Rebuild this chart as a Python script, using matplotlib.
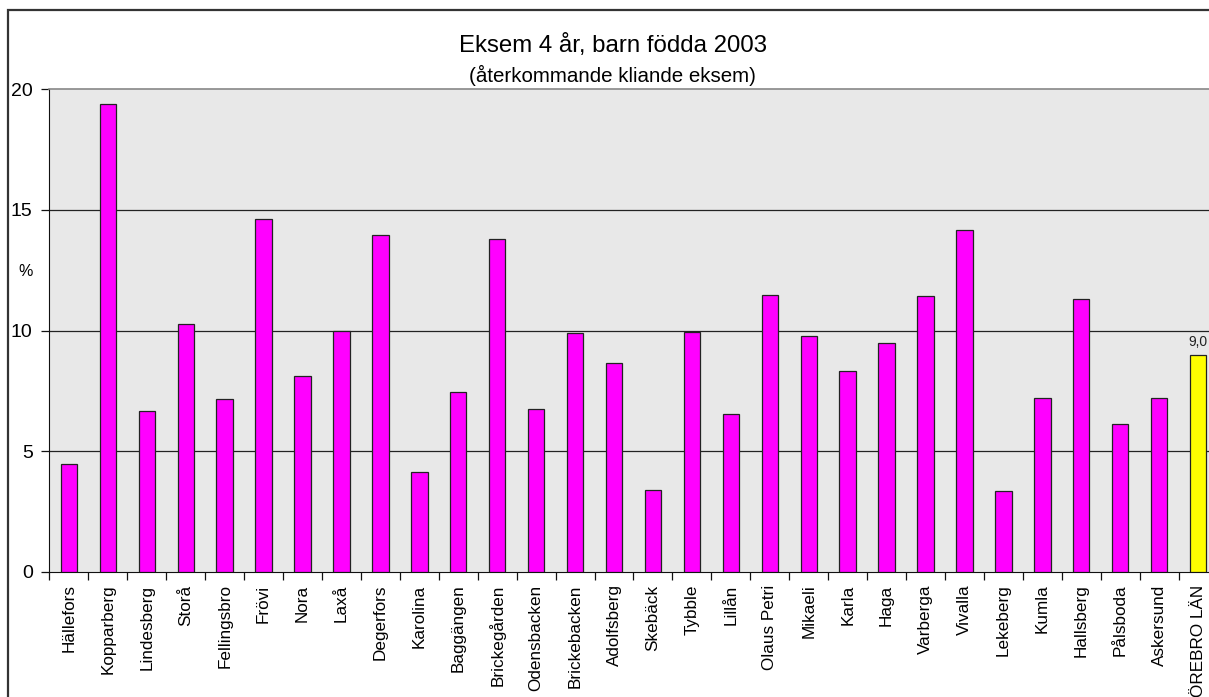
import matplotlib
matplotlib.use("Agg")
import matplotlib.pyplot as plt
from matplotlib.patches import Rectangle
from matplotlib.ticker import FixedLocator, NullFormatter

plt.rcParams['font.family'] = ['Liberation Sans', 'DejaVu Sans']

# Andel barn (%) med återkommande kliande eksem vid 4 års ålder, per område
areas = ["Hällefors", "Kopparberg", "Lindesberg", "Storå", "Fellingsbro", "Frövi",
         "Nora", "Laxå", "Degerfors", "Karolina", "Baggängen", "Brickegården",
         "Odensbacken", "Brickebacken", "Adolfsberg", "Skebäck", "Tybble", "Lillån",
         "Olaus Petri", "Mikaeli", "Karla", "Haga", "Varberga", "Vivalla",
         "Lekeberg", "Kumla", "Hallsberg", "Pålsboda", "Askersund", "ÖREBRO LÄN"]
values = [4.47, 19.38, 6.67, 10.27, 7.16, 14.62,
          8.12, 9.98, 13.95, 4.14, 7.45, 13.79,
          6.75, 9.90, 8.65, 3.40, 9.94, 6.54,
          11.47, 9.77, 8.32, 9.48, 11.43, 14.16,
          3.35, 7.20, 11.30, 6.13, 7.20, 9.0]
county_label = "9,0"
yticks = [0, 5, 10, 15, 20]

W, H = 1209, 697
fig = plt.figure(figsize=(W / 100, H / 100), dpi=100)

# outer chart frame
fig.patches.append(Rectangle((7.5 / W, -0.1), 1.2, 1 - 10 / H + 0.1,
                             transform=fig.transFigure, fill=False,
                             edgecolor="#333333", linewidth=1.6, clip_on=False))

left, right, bottom, top = 49.4, 1217.6, 572, 89
ax = fig.add_axes([left / W, 1 - bottom / H, (right - left) / W, (bottom - top) / H])
ax.set_facecolor("#E8E8E8")

n = len(areas)
colors = ["#FF00FF"] * (n - 1) + ["#FFFF00"]
x = list(range(n))
ax.bar(x, values, width=0.42, color=colors, edgecolor="#222222", linewidth=0.9, zorder=3)

ax.set_xlim(-0.5, n - 0.5)
ax.set_ylim(0, 20)

# gridlines
for yv in yticks[1:-1]:
    ax.axhline(yv, color="#222222", linewidth=0.9, zorder=1)

ax.spines['top'].set_color("#888888")
ax.spines['top'].set_linewidth(1.2)
ax.spines['right'].set_visible(False)
ax.spines['left'].set_color("#111111")
ax.spines['bottom'].set_color("#111111")

ax.set_yticks(yticks)
ax.set_yticklabels([str(v) for v in yticks], fontsize=14)
ax.tick_params(axis='y', direction='out', length=6, width=0.9, pad=6, color="#111111")

ax.set_xticks(x)
ax.set_xticklabels(areas, rotation=90, fontsize=12.3, va='top', ha='center')
ax.tick_params(axis='x', which='major', length=0, pad=9)
ax.xaxis.set_minor_locator(FixedLocator([i - 0.5 for i in range(n + 1)]))
ax.xaxis.set_minor_formatter(NullFormatter())
ax.tick_params(axis='x', which='minor', direction='out', length=6, width=0.9, color="#111111")

# value label on county bar
ax.annotate(county_label, (n - 1, values[-1]), xytext=(0, 4), textcoords="offset points",
            ha='center', va='bottom', fontsize=10, color="#222222")

# titles and unit
fig.text(613 / W, 1 - 52 / H, "Eksem 4 år, barn födda 2003", ha='center', va='baseline',
         fontsize=17.3)
fig.text(612.5 / W, 1 - 82 / H, "(återkommande kliande eksem)", ha='center', va='baseline',
         fontsize=14.8)
fig.text(25.7 / W, 1 - 272 / H, "%", ha='center', va='center', fontsize=11.5)

fig.savefig("out.png", dpi=100)
